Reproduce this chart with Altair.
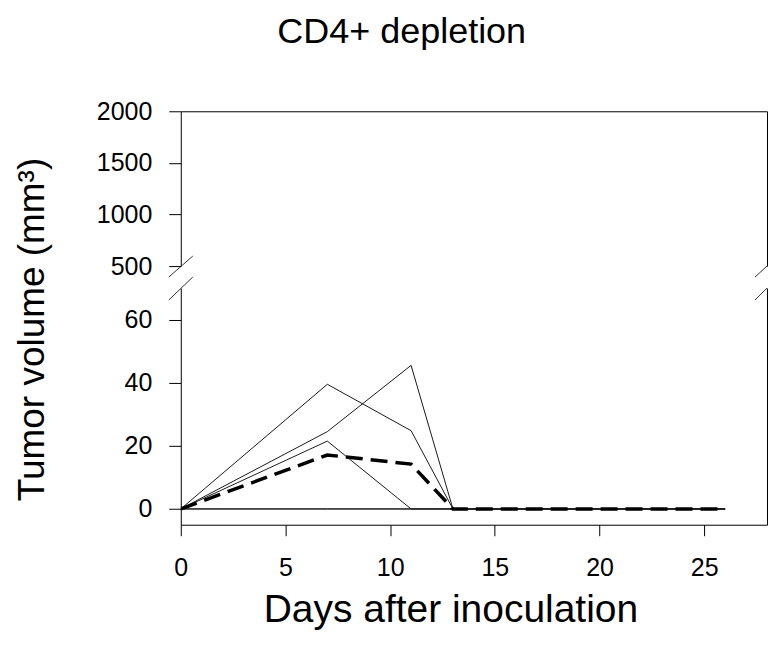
import altair as alt
import pandas as pd

# ---- data ----
days = [0, 7, 11, 13, 26]
mouse_a = [0, 39.5, 24.8, 0, 0]
mouse_b = [0, 24.5, 45.5, 0, 0]
mouse_c = [0, 21.5, 0, 0, 0]
mouse_d = [0, 0, 0, 0, 0]
mouse_e = [0, 0, 0, 0, 0]
mean_volume = [0, 17.1, 14.2, 0, 0]

x_ticks = [0, 5, 10, 15, 20, 25]
y_ticks_low = [0, 20, 40, 60]
y_ticks_high = [500, 1000, 1500, 2000]

FONT = "Liberation Sans"

rows = []
for name, vals in [("A", mouse_a), ("B", mouse_b), ("C", mouse_c), ("D", mouse_d), ("E", mouse_e)]:
    for d, v in zip(days, vals):
        rows.append({"day": d, "volume": v, "mouse": name})
mice_df = pd.DataFrame(rows)
mean_df = pd.DataFrame({"day": days, "volume": mean_volume})
one = pd.DataFrame({"k": [0]})

W = 587
H_TOP = 155
H_LOW = 237

x_scale = alt.Scale(domain=[0, 28], nice=False, zero=False)
y_low = alt.Scale(domain=[-5, 70], nice=False, zero=False)
y_high = alt.Scale(domain=[500, 2000], nice=False, zero=False)

lab = dict(labelFont=FONT, labelFontSize=25, labelColor="black",
           domainColor="black", tickColor="black", domainWidth=1, tickWidth=1,
           grid=False, format="d", labelOverlap=False)
border = dict(labels=False, ticks=False, title=None, domainColor="black",
              domainWidth=1, grid=False)

# ---------------- lower panel ----------------
thin = alt.Chart(mice_df).mark_line(color="#1a1a1a", strokeWidth=1, clip=True).encode(
    x=alt.X("day:Q", scale=x_scale,
            axis=alt.Axis(values=x_ticks, title="Days after inoculation", tickSize=11,
                          labelPadding=20, labelFlush=False, titleFont=FONT, titleFontSize=39,
                          titleFontWeight="normal", titleColor="black", titleX=270, titleY=97,
                          titleBaseline="alphabetic", titleAlign="center", **lab)),
    y=alt.Y("volume:Q", scale=y_low,
            axis=alt.Axis(values=y_ticks_low, title="Tumor volume (mm³)", tickSize=12,
                          labelPadding=17, titleFont=FONT, titleFontSize=37,
                          titleFontWeight="normal", titleColor="black", titleAngle=-90,
                          titleX=-137, titleY=41, titleBaseline="alphabetic",
                          titleAlign="center", **lab)),
    detail="mouse:N",
)
mean_line = alt.Chart(mean_df).mark_line(color="black", strokeWidth=3.5, strokeDash=[17, 8],
                                         clip=True).encode(
    x=alt.X("day:Q", scale=x_scale, axis=None),
    y=alt.Y("volume:Q", scale=y_low, axis=None),
)
low_right = alt.Chart(mean_df).mark_line(opacity=0).encode(
    x=alt.X("day:Q", scale=x_scale, axis=None),
    y=alt.Y("volume:Q", scale=y_low, axis=alt.Axis(orient="right", **border)),
)
low_breaks = alt.Chart(one).mark_rule(color="#333333", strokeWidth=1).encode(
    x=alt.value(-12), x2=alt.value(12), y=alt.value(12), y2=alt.value(-11))
low_breaks_r = alt.Chart(one).mark_rule(color="#333333", strokeWidth=1).encode(
    x=alt.value(W - 12), x2=alt.value(W), y=alt.value(12), y2=alt.value(0))

lower = alt.layer(thin, mean_line, low_right, low_breaks, low_breaks_r).resolve_axis(
    x="independent", y="independent").properties(width=W, height=H_LOW)

# ---------------- upper panel ----------------
top_lines = alt.Chart(mice_df).mark_line(color="#1a1a1a", strokeWidth=1, clip=True).encode(
    x=alt.X("day:Q", scale=x_scale, axis=alt.Axis(orient="top", **border)),
    y=alt.Y("volume:Q", scale=y_high,
            axis=alt.Axis(values=y_ticks_high, title=None, tickSize=12, labelPadding=17, **lab)),
    detail="mouse:N",
)
top_right = alt.Chart(mean_df).mark_line(opacity=0, clip=True).encode(
    x=alt.X("day:Q", scale=x_scale, axis=None),
    y=alt.Y("volume:Q", scale=y_high, axis=alt.Axis(orient="right", **border)),
)
top_breaks = alt.Chart(one).mark_rule(color="#333333", strokeWidth=1).encode(
    x=alt.value(-12), x2=alt.value(12), y=alt.value(H_TOP + 11), y2=alt.value(H_TOP - 10))
top_breaks_r = alt.Chart(one).mark_rule(color="#333333", strokeWidth=1).encode(
    x=alt.value(W - 12), x2=alt.value(W), y=alt.value(H_TOP + 11), y2=alt.value(H_TOP))

upper = alt.layer(top_lines, top_right, top_breaks, top_breaks_r).resolve_axis(
    x="independent", y="independent").properties(width=W, height=H_TOP)

chart = alt.vconcat(upper, lower, spacing=22, bounds="flush").properties(
    title=alt.TitleParams("CD4+ depletion", font=FONT, fontSize=36, fontWeight="normal",
                          color="black", anchor="middle", dx=11, offset=48),
    padding={"left": 5, "top": 6, "right": 0, "bottom": 0},
    background="white",
).configure_view(stroke=None)

chart.save("out.html", embed_options={"renderer": "svg", "actions": False})
